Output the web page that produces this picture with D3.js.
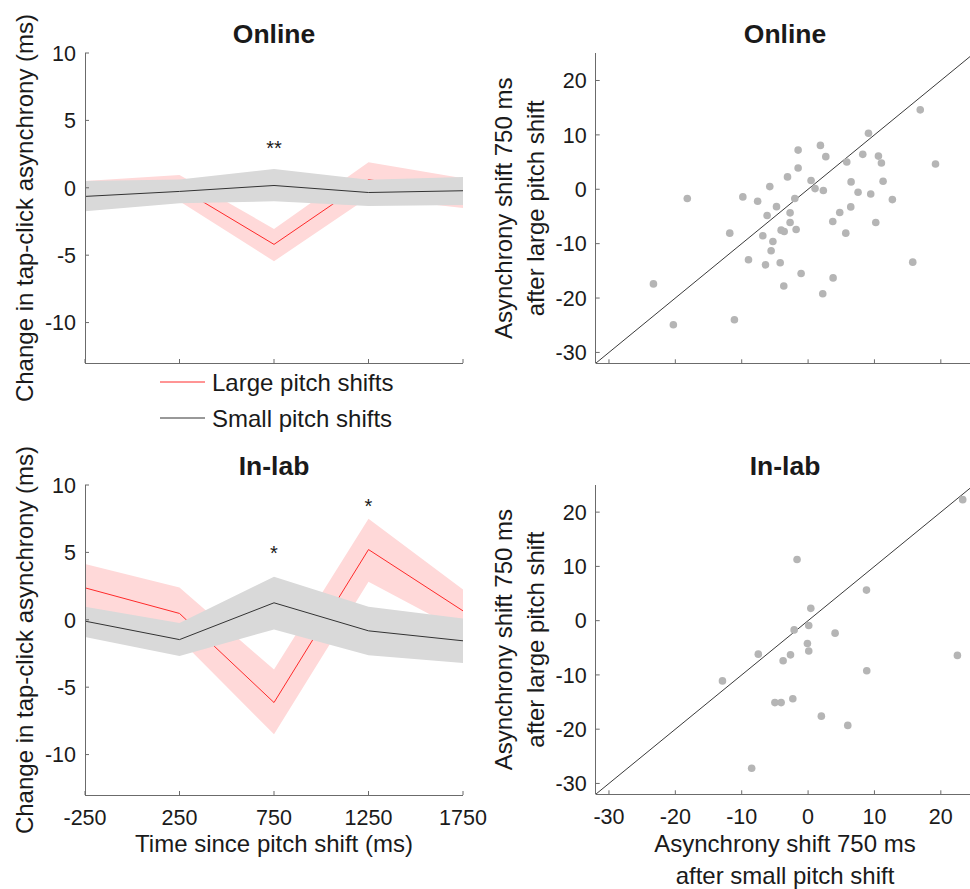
<!DOCTYPE html>
<html><head><meta charset="utf-8">
<script src="https://cdn.jsdelivr.net/npm/d3@7"></script>
<style>
html,body{margin:0;padding:0;background:#fff;}
svg text{font-family:"Liberation Sans",Arial,Helvetica,sans-serif;fill:#1a1a1a;}
</style></head>
<body>
<svg id="chart" width="970" height="889"></svg>
<script>
// ---- data ----
const times = [-250, 250, 750, 1250, 1750];
const lineXTicks = [-250, 250, 750, 1250, 1750];
const lineYTicks = [-10, -5, 0, 5, 10];
const scatterTicks = [-30, -20, -10, 0, 10, 20];

const onlineLarge   = [-0.4, 0.0, -4.2, 0.6, -0.4];
const onlineLargeHi = [0.5, 0.95, -3.05, 1.9, 0.7];
const onlineLargeLo = [-1.3, -1.0, -5.45, -0.7, -1.5];
const onlineSmall   = [-0.64, -0.27, 0.17, -0.35, -0.22];
const onlineSmallHi = [0.5, 0.62, 1.4, 0.6, 0.8];
const onlineSmallLo = [-1.75, -1.15, -1.0, -1.35, -1.28];

const labLarge   = [2.37, 0.47, -6.14, 5.21, 0.66];
const labLargeHi = [4.13, 2.4, -3.69, 7.5, 2.25];
const labLargeLo = [0.6, -1.45, -8.5, 2.82, -0.9];
const labSmall   = [-0.1, -1.47, 1.26, -0.82, -1.56];
const labSmallHi = [0.96, -0.23, 3.19, 0.96, 0.09];
const labSmallLo = [-1.27, -2.68, -0.72, -2.63, -3.2];

const onlineSig = [{t: 750, v: 3.3, s: "**"}];
const labSig = [{t: 750, v: 5.3, s: "*"}, {t: 1250, v: 8.75, s: "*"}];

const onlineShiftSmall = [16.9, 9.1, 1.86, -1.5, 2.67, 8.24, 10.6, 11.05, 5.83, -1.5, -3.1, 0.45, 1.05, 2.3, -5.77, 6.48, 11.3, 7.53, 9.44, 12.7, -18.2, -9.83, -7.6, -2.0, -4.76, -2.71, -6.17, 6.43, 4.77, -2.71, 3.72, 10.2, -11.8, -6.82, -4.06, -3.6, -1.8, 5.68, -5.3, -5.57, -8.98, -6.42, -4.2, 15.77, -1.05, 3.77, -3.66, 2.21, -23.3, -20.3, -11.1, 19.2];
const onlineShiftLarge = [14.6, 10.3, 8.07, 7.2, 6.0, 6.42, 6.1, 4.83, 5.0, 3.9, 2.27, 1.6, 0.12, -0.24, 0.49, 1.35, 1.46, -0.55, -0.86, -1.9, -1.7, -1.4, -2.2, -1.7, -3.2, -4.34, -4.83, -3.24, -4.28, -6.1, -5.93, -6.1, -8.07, -8.56, -7.52, -7.77, -7.4, -8.07, -9.6, -11.3, -12.97, -13.9, -13.5, -13.4, -15.5, -16.3, -17.8, -19.2, -17.4, -24.9, -24.0, 4.65];

const labShiftSmall = [23.3, -1.66, 8.8, 0.41, -2.1, 0.1, 4.07, -0.1, 0.1, -7.5, -2.65, -3.76, 22.5, 8.84, -12.9, -5.0, -4.06, -2.3, 2.0, 5.98, -8.5];
const labShiftLarge = [22.3, 11.26, 5.63, 2.27, -1.7, -0.9, -2.3, -4.2, -5.6, -6.17, -6.3, -7.4, -6.4, -9.23, -11.1, -15.1, -15.1, -14.4, -17.6, -19.3, -27.2];

const legendLabels = ["Large pitch shifts", "Small pitch shifts"];

// ---- styles ----
const RED = "#ff2a2a", RED_BAND = "#ffd9d9", GREY_BAND = "#d9d9d9", BLACK_LINE = "#333333";
const AXIS = "#6b6b6b", DOT = "#b5b5b5";
const TICK_FS = 21.5;

const svg = d3.select("#chart");

function drawAxes(g, x, y, xTicks, yTicks, showXLabels) {
  const [x0, x1] = x.range();
  const [yb, yt] = y.range();
  g.append("line").attr("x1", x0).attr("x2", x0).attr("y1", yb).attr("y2", yt)
    .attr("stroke", AXIS).attr("stroke-width", 1).attr("shape-rendering", "crispEdges");
  g.append("line").attr("x1", x0).attr("x2", Math.min(x1, 970)).attr("y1", yb).attr("y2", yb)
    .attr("stroke", AXIS).attr("stroke-width", 1).attr("shape-rendering", "crispEdges");
  yTicks.forEach(v => {
    g.append("line").attr("x1", x0).attr("x2", x0 + 4).attr("y1", y(v)).attr("y2", y(v))
      .attr("stroke", AXIS).attr("stroke-width", 1);
    g.append("text").attr("x", x0 - 9).attr("y", y(v)).attr("dy", "0.36em")
      .attr("text-anchor", "end").attr("font-size", TICK_FS).text(v);
  });
  xTicks.forEach(v => {
    g.append("line").attr("x1", x(v)).attr("x2", x(v)).attr("y1", yb).attr("y2", yb - 4)
      .attr("stroke", AXIS).attr("stroke-width", 1);
    if (showXLabels) {
      g.append("text").attr("x", x(v)).attr("y", yb + 30)
        .attr("text-anchor", "middle").attr("font-size", TICK_FS).text(v);
    }
  });
}

function title(g, cx, baseline, txt) {
  g.append("text").attr("x", cx).attr("y", baseline).attr("text-anchor", "middle")
    .attr("font-size", 26.5).attr("font-weight", "bold").text(txt);
}

function linePanel(top, bottom, large, largeHi, largeLo, small, smallHi, smallLo, sigs, name, showX) {
  const g = svg.append("g");
  const x = d3.scaleLinear().domain([-250, 1750]).range([85, 463]);
  const y = d3.scaleLinear().domain([-13, 10]).range([bottom, top]);
  const rows = times.map((t, i) => ({t, L: large[i], LH: largeHi[i], LL: largeLo[i], S: small[i], SH: smallHi[i], SL: smallLo[i]}));
  const area = (hi, lo) => d3.area().x(d => x(d.t)).y0(d => y(d[lo])).y1(d => y(d[hi]));
  const line = k => d3.line().x(d => x(d.t)).y(d => y(d[k]));
  g.append("path").datum(rows).attr("d", area("LH", "LL")).attr("fill", RED_BAND);
  g.append("path").datum(rows).attr("d", line("L")).attr("fill", "none").attr("stroke", RED).attr("stroke-width", 1);
  g.append("path").datum(rows).attr("d", area("SH", "SL")).attr("fill", GREY_BAND);
  g.append("path").datum(rows).attr("d", line("S")).attr("fill", "none").attr("stroke", BLACK_LINE).attr("stroke-width", 1);
  drawAxes(g, x, y, lineXTicks, lineYTicks, showX);
  sigs.forEach(s => {
    g.append("text").attr("x", x(s.t)).attr("y", y(s.v)).attr("dy", "0.58em")
      .attr("text-anchor", "middle").attr("font-size", 20).text(s.s);
  });
  title(g, 274, top - 10, name);
  g.append("text").attr("transform", `translate(33,${(top + bottom) / 2}) rotate(-90)`)
    .attr("text-anchor", "middle").attr("font-size", 24).text("Change in tap-click asynchrony (ms)");
  return {g, x, y};
}

function scatterPanel(top, bottom, xs, ys, name, showX) {
  const g = svg.append("g");
  const x = d3.scaleLinear().domain([-32, 25]).range([595.7, 974]);
  const y = d3.scaleLinear().domain([-32, 25]).range([bottom, top]);
  const pts = xs.map((v, i) => ({x: v, y: ys[i]}));
  g.append("line").attr("x1", x(-32)).attr("y1", y(-32)).attr("x2", x(25)).attr("y2", y(25))
    .attr("stroke", "#3a3a3a").attr("stroke-width", 1);
  g.selectAll("circle").data(pts).join("circle")
    .attr("cx", d => x(d.x)).attr("cy", d => y(d.y)).attr("r", 3.8).attr("fill", DOT);
  drawAxes(g, x, y, scatterTicks, scatterTicks, showX);
  title(g, 785, top - 10, name);
  const cy = (top + bottom) / 2;
  g.append("text").attr("transform", `translate(512,${cy}) rotate(-90)`)
    .attr("text-anchor", "middle").attr("font-size", 24).text("Asynchrony shift 750 ms");
  g.append("text").attr("transform", `translate(544,${cy}) rotate(-90)`)
    .attr("text-anchor", "middle").attr("font-size", 24).text("after large pitch shift");
  return {g, x, y};
}

linePanel(53, 363, onlineLarge, onlineLargeHi, onlineLargeLo, onlineSmall, onlineSmallHi, onlineSmallLo, onlineSig, "Online", false);
linePanel(485, 795, labLarge, labLargeHi, labLargeLo, labSmall, labSmallHi, labSmallLo, labSig, "In-lab", true);
scatterPanel(53.3, 363.3, onlineShiftSmall, onlineShiftLarge, "Online", false);
scatterPanel(485, 794.3, labShiftSmall, labShiftLarge, "In-lab", true);

svg.append("text").attr("x", 274).attr("y", 852).attr("text-anchor", "middle")
  .attr("font-size", 24).text("Time since pitch shift (ms)");
svg.append("text").attr("x", 785).attr("y", 852).attr("text-anchor", "middle")
  .attr("font-size", 24).text("Asynchrony shift 750 ms");
svg.append("text").attr("x", 785).attr("y", 884).attr("text-anchor", "middle")
  .attr("font-size", 24).text("after small pitch shift");

const legColors = [RED, BLACK_LINE];
const legY = [382, 418];
legendLabels.forEach((lab, i) => {
  svg.append("line").attr("x1", 160).attr("x2", 205).attr("y1", legY[i]).attr("y2", legY[i])
    .attr("stroke", legColors[i]).attr("stroke-width", 1);
  svg.append("text").attr("x", 212).attr("y", legY[i] + 9).attr("font-size", 24).text(lab);
});
</script>
</body></html>
